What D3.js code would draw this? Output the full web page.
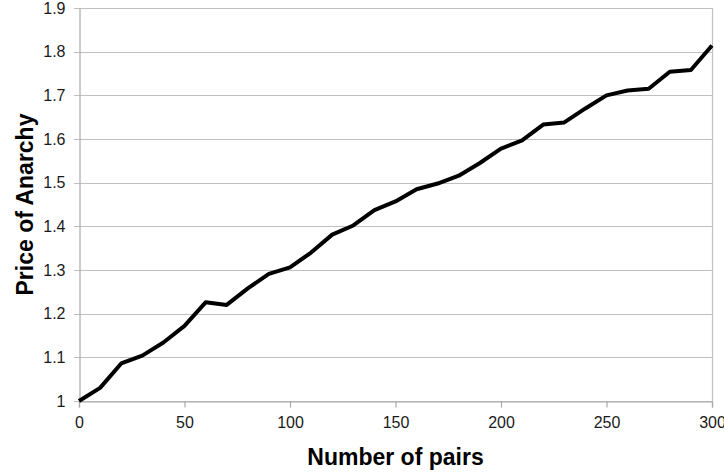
<!DOCTYPE html>
<html>
<head>
<meta charset="utf-8">
<script src="https://cdn.jsdelivr.net/npm/d3@7"></script>
<style>
  html, body { margin: 0; padding: 0; background: #fff; }
  svg { display: block; font-family: "Liberation Sans", Arial, sans-serif; }
</style>
</head>
<body>
<svg id="chart" width="724" height="476"></svg>
<script>
const pairs = [0,10,20,30,40,50,60,70,80,90,100,110,120,130,140,150,160,170,180,190,200,210,220,230,240,250,260,270,280,290,300];
const poa = [1.000,1.030,1.086,1.104,1.134,1.172,1.226,1.220,1.258,1.291,1.306,1.340,1.381,1.402,1.437,1.457,1.485,1.498,1.516,1.545,1.578,1.597,1.633,1.638,1.670,1.700,1.711,1.715,1.754,1.758,1.814];
const xTicks = [0,50,100,150,200,250,300];
const yTicks = [1,1.1,1.2,1.3,1.4,1.5,1.6,1.7,1.8,1.9];
const xTitle = "Number of pairs";
const yTitle = "Price of Anarchy";

const svg = d3.select("#chart");
const plotL = 79, plotR = 712, plotT = 8, plotB = 401;

const x = d3.scaleLinear().domain([0,300]).range([plotL,plotR]);
const y = d3.scaleLinear().domain([1,1.9]).range([plotB,plotT]);

// gridlines
svg.append("g").selectAll("line").data(yTicks).join("line")
  .attr("x1", plotL - 5).attr("x2", plotR)
  .attr("y1", d => Math.round(y(d)) + 0.5).attr("y2", d => Math.round(y(d)) + 0.5)
  .attr("stroke", "#c0c0c0").attr("stroke-width", 1.2);

// right border
svg.append("line")
  .attr("x1", plotR + 0.5).attr("x2", plotR + 0.5)
  .attr("y1", plotT).attr("y2", plotB)
  .attr("stroke", "#c0c0c0").attr("stroke-width", 1.2);

// x axis
const xAxis = d3.axisBottom(x).tickValues(xTicks).tickSize(6).tickPadding(9).tickFormat(d3.format("d"));
const gx = svg.append("g").attr("transform", `translate(0,${plotB + 0.5})`).call(xAxis);
gx.select(".domain").attr("stroke", "#a8a8a8").attr("stroke-width", 1.2);
gx.selectAll(".tick line").attr("stroke", "#a8a8a8").attr("stroke-width", 1.2);
gx.selectAll(".tick text").attr("font-size", 16).attr("fill", "#1a1a1a")
  .attr("font-family", "Liberation Sans, Arial, sans-serif");

// y axis
const yAxis = d3.axisLeft(y).tickValues(yTicks).tickSize(0).tickPadding(14)
  .tickFormat(d => d === 1 ? "1" : d3.format(".1f")(d));
const gy = svg.append("g").attr("transform", `translate(${plotL + 0.5},0)`).call(yAxis);
gy.select(".domain").attr("stroke", "#a8a8a8").attr("stroke-width", 1.2);
gy.selectAll(".tick text").attr("font-size", 16).attr("fill", "#1a1a1a")
  .attr("font-family", "Liberation Sans, Arial, sans-serif");

// line
const line = d3.line().x((d,i) => x(pairs[i])).y(d => y(d));
svg.append("path").datum(poa)
  .attr("d", line)
  .attr("fill", "none")
  .attr("stroke", "#000")
  .attr("stroke-width", 4)
  .attr("stroke-linejoin", "round");

// titles
svg.append("text")
  .attr("x", (plotL + plotR) / 2).attr("y", 465)
  .attr("text-anchor", "middle")
  .attr("font-size", 23).attr("font-weight", "bold").attr("fill", "#000")
  .text(xTitle);

svg.append("text")
  .attr("transform", `translate(33,${(plotT + plotB) / 2}) rotate(-90)`)
  .attr("text-anchor", "middle")
  .attr("font-size", 23).attr("font-weight", "bold").attr("fill", "#000")
  .text(yTitle);
</script>
</body>
</html>
